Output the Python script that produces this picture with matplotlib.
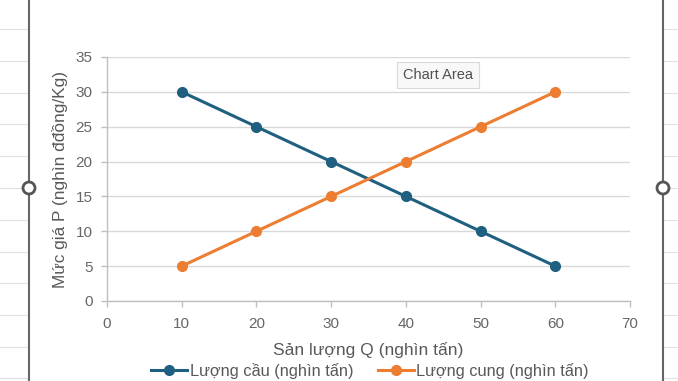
import matplotlib
matplotlib.use("Agg")
import matplotlib.pyplot as plt
from matplotlib.lines import Line2D
from matplotlib.patches import Circle

plt.rcParams['font.family'] = ['Liberation Sans', 'DejaVu Sans']

quantity = [10, 20, 30, 40, 50, 60]
demand_price = [30, 25, 20, 15, 10, 5]
supply_price = [5, 10, 15, 20, 25, 30]
demand_label = "Lượng cầu (nghìn tấn)"
supply_label = "Lượng cung (nghìn tấn)"
x_title = "Sản lượng Q (nghìn tấn)"
y_title = "Mức giá P (nghìn đđồng/Kg)"
x_ticks = [0, 10, 20, 30, 40, 50, 60, 70]
y_ticks = [0, 5, 10, 15, 20, 25, 30, 35]

W, H = 678, 381
fig = plt.figure(figsize=(W / 100, H / 100), dpi=100)

# Excel sheet cell gridlines outside the chart frame
for yp in [29, 61, 93, 124, 156, 188, 220, 252, 283, 315, 347, 378]:
    yf = 1 - yp / H
    fig.add_artist(Line2D([0, 28 / W], [yf, yf], color='#E2E2E2', lw=0.8))
    fig.add_artist(Line2D([664 / W, 1], [yf, yf], color='#E2E2E2', lw=0.8))

ax = fig.add_axes([107 / W, 1 - 301 / H, (630 - 107) / W, (301 - 57) / H])

blue = '#1F5F7F'
orange = '#ED7D31'
ax.plot(quantity, demand_price, color=blue, lw=2.2, marker='o', ms=7, label=demand_label, zorder=3)
ax.plot(quantity, supply_price, color=orange, lw=2.2, marker='o', ms=7, label=supply_label, zorder=3)

ax.set_xlim(0, 70)
ax.set_ylim(0, 35)
ax.set_xticks(x_ticks)
ax.set_yticks(y_ticks)
ax.grid(axis='y', color='#D9D9D9', lw=1)
ax.set_axisbelow(True)
for s in ['top', 'right']:
    ax.spines[s].set_visible(False)
for s in ['left', 'bottom']:
    ax.spines[s].set_color('#BFBFBF')
    ax.spines[s].set_linewidth(1)
ax.tick_params(axis='both', colors='#BFBFBF', labelcolor='#666666', labelsize=11, length=4, width=1, direction='out')
ax.tick_params(axis='y', pad=6.5)
ax.tick_params(axis='x', pad=7.5)

ax.set_xlabel(x_title, fontsize=12.6, color='#595959', labelpad=8)
ax.set_ylabel(y_title, fontsize=12.4, color='#595959', labelpad=5)

fig.legend(loc='center', bbox_to_anchor=(370 / W, 1 - 371 / H), ncol=2, frameon=False,
           fontsize=11.8, labelcolor='#595959', handlelength=2.2, columnspacing=1.5,
           handletextpad=0.15)

# "Chart Area" tooltip
fig.text(438 / W, 1 - 75 / H, "Chart Area", ha='center', va='center', fontsize=10.5,
         color='#505050',
         bbox=dict(boxstyle='square,pad=0.4', fc='#F8F8F8', ec='#DADADA', lw=0.8))

# Chart selection frame
for xp in [29, 663]:
    xf = xp / W
    fig.add_artist(Line2D([xf, xf], [0, 1], color='#666666', lw=1.5))
    fig.add_artist(Circle((xf * W, H - 188), 6, transform=None, fc='white', ec='#555555', lw=2, zorder=5))

fig.savefig('out.png', dpi=100)
